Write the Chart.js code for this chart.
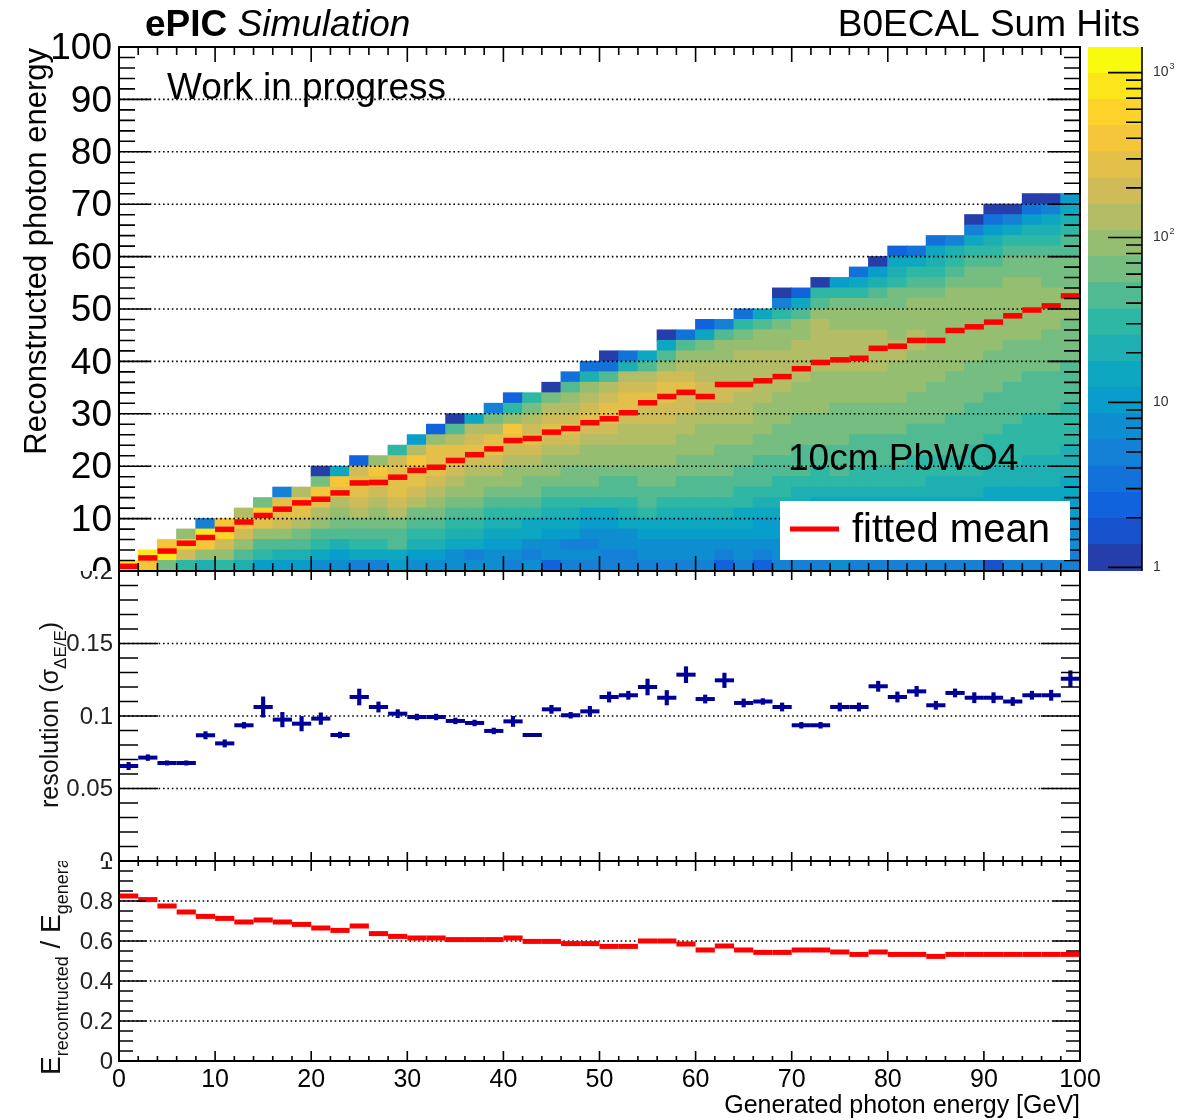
<!DOCTYPE html>
<html><head><meta charset="utf-8">
<script src="https://cdn.jsdelivr.net/npm/chart.js@4.4.0/dist/chart.umd.min.js"></script>
<style>
html,body{margin:0;padding:0;background:#fff;}
#wrap{position:relative;width:1196px;height:1120px;overflow:hidden;background:#fff;}
canvas{position:absolute;}
</style></head><body>
<div id="wrap">
<canvas id="cTop" width="1196" height="571" style="left:0;top:0"></canvas>
<canvas id="cPal" width="116" height="571" style="left:1080px;top:0"></canvas>
<canvas id="cMid" width="1196" height="290" style="left:0;top:571px"></canvas>
<canvas id="cBot" width="1196" height="259" style="left:0;top:861px"></canvas>
</div>
<script>
// ================= DATA =================
const binCenters = [1,3,5,7,9,11,13,15,17,19,21,23,25,27,29,31,33,35,37,39,41,43,45,47,49,51,53,55,57,59,61,63,65,67,69,71,73,75,77,79,81,83,85,87,89,91,93,95,97,99];
const fittedMean = [0.9,2.5,3.8,5.3,6.4,7.95,9.35,10.6,11.8,13.0,13.7,14.9,16.8,16.9,17.9,19.2,19.8,21.1,22.2,23.3,24.9,25.3,26.5,27.2,28.3,29.05,30.2,32.1,33.3,34.1,33.3,35.6,35.6,36.3,37.1,38.6,39.8,40.3,40.6,42.5,42.9,44.0,44.0,45.9,46.6,47.5,48.7,49.8,50.6,52.5];
const resolution = [0.0655,0.0713,0.0676,0.0676,0.0867,0.0811,0.0936,0.1062,0.0975,0.0947,0.0982,0.0869,0.1131,0.1062,0.1016,0.0993,0.0993,0.0966,0.0952,0.0897,0.0963,0.0869,0.1046,0.1005,0.1032,0.1131,0.1143,0.1200,0.1126,0.1285,0.1117,0.1246,0.1090,0.1100,0.1062,0.0936,0.0936,0.1062,0.1062,0.1205,0.1131,0.1170,0.1074,0.1159,0.1126,0.1126,0.1100,0.1143,0.1143,0.1257];
const resolutionErr = [0.0025,0.002,0.0015,0.0015,0.0025,0.0025,0.002,0.007,0.005,0.005,0.004,0.002,0.0055,0.0035,0.0028,0.002,0.002,0.002,0.002,0.002,0.0035,0.001,0.0028,0.002,0.0035,0.0035,0.0028,0.0055,0.005,0.0055,0.0028,0.005,0.0028,0.002,0.0028,0.002,0.002,0.0028,0.0028,0.0035,0.0035,0.0035,0.0028,0.0028,0.0035,0.0035,0.0028,0.0028,0.0035,0.0055];
const ratioRecoGen = [0.825,0.807,0.775,0.745,0.723,0.713,0.695,0.705,0.695,0.683,0.665,0.653,0.675,0.637,0.623,0.615,0.615,0.607,0.607,0.607,0.615,0.598,0.598,0.587,0.587,0.573,0.573,0.600,0.600,0.585,0.555,0.575,0.555,0.543,0.543,0.555,0.555,0.545,0.533,0.545,0.533,0.533,0.523,0.533,0.533,0.533,0.533,0.533,0.533,0.533];
// 2D histogram: one string per generated-energy bin, one char per 2 GeV reconstructed bin (row 0 upward),
// char = colour contour level (0-9,a-j = 0..19)
const cellLevels = [
"i","gi","big","9ehc","8cgi4","9cehg","8acegd","69acfhb","68aceff4","68abdfgd",
"579acdfgb0","568abcdfg7","479abdeffe2","479abcdefgc","67aabdefffe9","5689abdeffgd6","5689abcdefffc2","55789abcdeffda0","54789abccdefed7","556789abcdeffdb4",
"456789abccdefgc92","545779abbcdefedb9","2556789abccdefedb0","4546789abbcdefedca3","4545679abbccdefedc83","4455679aabccdeffeda30","4455789aabccddeffed83","455679aabbccddeefeda7","4556789abbccddeeffeca70","4556789aabbccddeefedca3",
"4556789aabbcccddeeddcb72","2456789aabbbccddeeddcca4","45567799aabbccdddedddcb93","24566789aaabbcccdddddcca7","455667899aabbbcccddddccb940","445567889aaabbbcccddddcca72","4455677899aabbbccccdddddca90","545567789aaabbbbcccddddccb96","4455667899aaabbbcccddddccb973","4455667899aaabbbcccddddccba860",
"4455667899aaabbbccccddcccbb9872","44556678999aaabbbccccddcccba973","44556678899aaabbbbccccccccba9873","44556678899aaaabbbbccccccccba984","445566788999aaaabbbbcccccccbba9740","1455667788999aaaabbbbccccccbba98630","44556677889999aaaabbbbccccccbba9740","445566778889999aaaabbbccccccbba98630","445566778889999aaaabbbbccccbbba98740","4455566778889999aaaabbbbcccbbbaa9876"
];
const yBinWidth = 2;
const colorLevels = [0.95,1.370,1.975,2.847,4.104,5.917,8.531,12.30,17.73,25.56,36.85,53.13,76.60,110.4,159.2,229.5,330.9,477.1,687.8,991.6,1430];
const xTickValues = [0,10,20,30,40,50,60,70,80,90,100];
const xTickLabels = ['0','10','20','30','40','50','60','70','80','90','100'];
const yTopTicks = [0,10,20,30,40,50,60,70,80,90,100];
const yTopLabels = ['0','10','20','30','40','50','60','70','80','90','100'];
const yResTicks = [0,0.05,0.1,0.15,0.2];
const yResLabels = ['0','0.05','0.1','0.15','0.2'];
const yRatioTicks = [0,0.2,0.4,0.6,0.8,1];
const yRatioLabels = ['0','0.2','0.4','0.6','0.8','1'];
const zTickValues = [1,10,100,1000];
const zTickLabels = [['1',''],['10',''],['10','2'],['10','3']];

// ================= STYLE =================
const FONT = "'Liberation Sans', Arial, Helvetica, sans-serif";
Chart.defaults.font.family = FONT;
const birdStops = [0.0000,0.1250,0.2500,0.3750,0.5000,0.6250,0.7500,0.8750,1.0000];
const birdRed   = [0.2082,0.0592,0.0780,0.0232,0.1802,0.5301,0.8186,0.9956,0.9764];
const birdGreen = [0.1664,0.3599,0.5041,0.6419,0.7178,0.7492,0.7328,0.7862,0.9832];
const birdBlue  = [0.5293,0.8684,0.8385,0.7914,0.6425,0.4662,0.3499,0.1968,0.0539];
function birdColor(t){
  let k=0; while(k<birdStops.length-2 && t>birdStops[k+1]) k++;
  const f=Math.min(1,Math.max(0,(t-birdStops[k])/(birdStops[k+1]-birdStops[k])));
  const c=a=>Math.round(255*(a[k]+f*(a[k+1]-a[k])));
  return `rgb(${c(birdRed)},${c(birdGreen)},${c(birdBlue)})`;
}
const nLevels = colorLevels.length-1;
const palette = Array.from({length:nLevels},(_,i)=>birdColor((i+0.99)/nLevels));

const halfBin = ctx => { const s=ctx.chart.scales.x; return (s.getPixelForValue(2)-s.getPixelForValue(0))/2; };

function drawGrid(chart,o){
  const {ctx,chartArea:a}=chart; const ys=chart.scales.y;
  ctx.save();
  ctx.strokeStyle='#000'; ctx.lineWidth=1.6; ctx.setLineDash([1.6,2.8]);
  o.yTicks.forEach((v,i)=>{
    if(i===0||i===o.yTicks.length-1) return;
    const py=ys.getPixelForValue(v);
    ctx.beginPath(); ctx.moveTo(a.left,py); ctx.lineTo(a.right,py); ctx.stroke();
  });
  ctx.restore();
}
function drawFrame(chart,o){
  const {ctx,chartArea:a}=chart; const xs=chart.scales.x, ys=chart.scales.y;
  ctx.save(); ctx.strokeStyle='#000'; ctx.lineWidth=1.6; ctx.setLineDash([]);
  ctx.beginPath();
  const nx=Math.round(100/2);
  for(let k=0;k<=nx;k++){
    const px=xs.getPixelForValue(k*2); const L=(k%5===0)?o.xTick[0]:o.xTick[1];
    ctx.moveTo(px,a.bottom); ctx.lineTo(px,a.bottom-L);
    ctx.moveTo(px,a.top); ctx.lineTo(px,a.top+L);
  }
  const y0=o.yTicks[0], y1=o.yTicks[o.yTicks.length-1];
  const ny=Math.round((y1-y0)/o.yMinor);
  for(let k=0;k<=ny;k++){
    const py=ys.getPixelForValue(y0+k*o.yMinor); const L=(k%o.yPerMajor===0)?o.yTick[0]:o.yTick[1];
    ctx.moveTo(a.left,py); ctx.lineTo(a.left+L,py);
    ctx.moveTo(a.right,py); ctx.lineTo(a.right-L,py);
  }
  ctx.stroke();
  ctx.lineWidth=2; ctx.strokeRect(a.left,a.top,a.right-a.left,a.bottom-a.top);
  ctx.fillStyle=o.yLabelColor; ctx.font=o.yLabelFont; ctx.textAlign='right'; ctx.textBaseline='middle';
  o.yTicks.forEach((v,i)=>ctx.fillText(o.yLabels[i],o.yLabelX,ys.getPixelForValue(v)+o.yLabelDy));
  ctx.restore();
}
function axesPlugin(o){
  return {
    id:'rootAxes',
    beforeDatasetsDraw(chart){ if(o.gridMode==='under') drawGrid(chart,o); },
    beforeDatasetDraw(chart,args){ if(o.gridMode==='before' && args.index===o.gridIndex) drawGrid(chart,o); },
    afterDatasetsDraw(chart){ drawFrame(chart,o); },
    afterDraw(chart){ if(o.extra) o.extra(chart); }
  };
}
function drawPieces(ctx,pieces){
  let u=0;
  for(const p of pieces){ ctx.font=p.font; ctx.fillText(p.t,u,p.dy||0); u+=ctx.measureText(p.t).width; }
}

// ================= TOP PANEL (2D histogram) =================
const cellDatasets=[];
const nRows=Math.max(...cellLevels.map(s=>s.length));
for(let r=0;r<nRows;r++){
  const data=[], bg=[];
  cellLevels.forEach((col,c)=>{
    if(r<col.length){
      data.push({x:binCenters[c], y:[r*yBinWidth,(r+1)*yBinWidth]});
      bg.push(palette[parseInt(col[r],36)]);
    }
  });
  cellDatasets.push({type:'bar',data,backgroundColor:bg,borderWidth:0,grouped:false,barPercentage:1,categoryPercentage:1,inflateAmount:0.5,order:2});
}
const meanDataset={type:'line',label:'fitted mean',data:binCenters.map((x,i)=>({x,y:fittedMean[i]})),showLine:false,
  pointStyle:'line',pointRadius:halfBin,pointHoverRadius:halfBin,pointBorderWidth:5.5,pointHoverBorderWidth:5.5,borderColor:'#ff0000',backgroundColor:'#ff0000',order:0};

function topExtras(chart){
  const ctx=chart.ctx;
  ctx.save(); ctx.fillStyle='#000'; ctx.textBaseline='alphabetic'; ctx.textAlign='left';
  ctx.font=`bold 37px ${FONT}`; ctx.fillText('ePIC',145,36);
  const w=ctx.measureText('ePIC ').width;
  ctx.font=`italic 37px ${FONT}`; ctx.fillText('Simulation',145+w,36);
  ctx.font=`37px ${FONT}`; ctx.textAlign='right'; ctx.fillText('B0ECAL Sum Hits',1140,36);
  ctx.textAlign='left';
  ctx.fillText('Work in progress',167,99);
  ctx.fillText('10cm PbWO4',788,470);
  ctx.fillStyle='#fff'; ctx.fillRect(780,501,290,59);
  ctx.strokeStyle='#ff0000'; ctx.lineWidth=5; ctx.beginPath(); ctx.moveTo(790,529); ctx.lineTo(839,529); ctx.stroke();
  ctx.fillStyle='#000'; ctx.font=`40px ${FONT}`; ctx.fillText('fitted mean',852,542);
  ctx.translate(46,48); ctx.rotate(-Math.PI/2); ctx.textAlign='right'; ctx.font=`31px ${FONT}`;
  ctx.fillText('Reconstructed photon energy',0,0);
  ctx.restore();
}
const baseOpts = (pad)=>({responsive:false,animation:false,devicePixelRatio:1,events:[],
  layout:{padding:pad},plugins:{legend:{display:false},tooltip:{enabled:false}}});

new Chart(document.getElementById('cTop'),{
  type:'bar',
  data:{datasets:[...cellDatasets,meanDataset]},
  options:Object.assign(baseOpts({left:119,right:116,top:47,bottom:0}),{
    scales:{x:{type:'linear',min:0,max:100,offset:false,display:false},
            y:{type:'linear',min:0,max:100,display:false}}}),
  plugins:[axesPlugin({gridMode:'before',gridIndex:cellDatasets.length,yTicks:yTopTicks,yLabels:yTopLabels,yMinor:2,yPerMajor:5,
    yTick:[32,16],xTick:[15,8],yLabelColor:'#000',yLabelFont:`37px ${FONT}`,yLabelX:112,yLabelDy:2,extra:topExtras})]
});

// ================= COLOUR BAR =================
const palDatasets=palette.map((col,i)=>({data:[[colorLevels[i],colorLevels[i+1]]],backgroundColor:col,borderWidth:0,grouped:false,barPercentage:1,categoryPercentage:1,inflateAmount:0.5}));
new Chart(document.getElementById('cPal'),{
  type:'bar',
  data:{labels:[''],datasets:palDatasets},
  options:Object.assign(baseOpts({left:8,right:54,top:47,bottom:0}),{
    scales:{x:{display:false},y:{type:'logarithmic',min:colorLevels[0],max:colorLevels[colorLevels.length-1],display:false}}}),
  plugins:[{id:'palAxis',afterDatasetsDraw(chart){
    const {ctx,chartArea:a}=chart; const ys=chart.scales.y;
    ctx.save(); ctx.strokeStyle='#000'; ctx.lineWidth=1.6; ctx.beginPath();
    ctx.moveTo(a.right,a.top); ctx.lineTo(a.right,a.bottom);
    zTickValues.forEach(d=>{ for(let m=1;m<=9;m++){ const v=d*m; if(v<ys.min||v>ys.max) continue;
      const py=ys.getPixelForValue(v); const L=m===1?34:16; ctx.moveTo(a.right,py); ctx.lineTo(a.right-L,py);} });
    ctx.stroke();
    ctx.fillStyle='#333'; ctx.textBaseline='middle'; ctx.textAlign='left';
    zTickValues.forEach((v,i)=>{ const py=ys.getPixelForValue(v); const [b,e]=zTickLabels[i];
      ctx.font=`14px ${FONT}`; ctx.fillText(b,a.right+11,py); const w=ctx.measureText(b).width;
      if(e){ ctx.font=`9px ${FONT}`; ctx.fillText(e,a.right+11+w+1,py-6); } });
    ctx.restore();
  }}]
});

// ================= MIDDLE PANEL (resolution) =================
function midExtras(chart){
  const ctx=chart.ctx; ctx.save(); ctx.fillStyle='#111'; ctx.textAlign='left'; ctx.textBaseline='alphabetic';
  ctx.translate(58,237); ctx.rotate(-Math.PI/2);
  drawPieces(ctx,[{t:'resolution (σ',font:`25px ${FONT}`},{t:'ΔE/E',font:`17px ${FONT}`,dy:8},{t:')',font:`25px ${FONT}`}]);
  ctx.restore();
}
new Chart(document.getElementById('cMid'),{
  type:'bar',
  data:{datasets:[
    {type:'bar',label:'err',data:binCenters.map((x,i)=>({x,y:[resolution[i]-resolutionErr[i],resolution[i]+resolutionErr[i]]})),
      backgroundColor:'#000099',borderWidth:0,barThickness:3.5,grouped:false,order:1},
    {type:'line',label:'resolution',data:binCenters.map((x,i)=>({x,y:resolution[i]})),showLine:false,pointStyle:'line',
      pointRadius:halfBin,pointHoverRadius:halfBin,pointBorderWidth:4,pointHoverBorderWidth:4,borderColor:'#000099',backgroundColor:'#000099',order:0}
  ]},
  options:Object.assign(baseOpts({left:119,right:116,top:0,bottom:0}),{
    scales:{x:{type:'linear',min:0,max:100,offset:false,display:false},y:{type:'linear',min:0,max:0.2,display:false}}}),
  plugins:[axesPlugin({gridMode:'under',yTicks:yResTicks,yLabels:yResLabels,yMinor:0.01,yPerMajor:5,
    yTick:[39,19],xTick:[9,5],yLabelColor:'#222',yLabelFont:`24px ${FONT}`,yLabelX:113,yLabelDy:1,extra:midExtras})]
});

// ================= BOTTOM PANEL (ratio) =================
function botExtras(chart){
  const {ctx}=chart; const xs=chart.scales.x;
  ctx.save(); ctx.fillStyle='#000'; ctx.textBaseline='alphabetic';
  ctx.font=`25px ${FONT}`; ctx.textAlign='center';
  xTickValues.forEach((v,i)=>ctx.fillText(xTickLabels[i],xs.getPixelForValue(v),226));
  ctx.textAlign='right'; ctx.fillText('Generated photon energy [GeV]',1080,252);
  ctx.textAlign='left'; ctx.fillStyle='#111';
  ctx.translate(60,214); ctx.rotate(-Math.PI/2);
  drawPieces(ctx,[{t:'E',font:`28px ${FONT}`},{t:'recontructed',font:`18px ${FONT}`,dy:8},{t:' / E',font:`28px ${FONT}`},{t:'generated',font:`18px ${FONT}`,dy:8}]);
  ctx.restore();
}
new Chart(document.getElementById('cBot'),{
  type:'line',
  data:{datasets:[
    {label:'E_reco/E_gen',data:binCenters.map((x,i)=>({x,y:ratioRecoGen[i]})),showLine:false,pointStyle:'line',
      pointRadius:halfBin,pointHoverRadius:halfBin,pointBorderWidth:5,pointHoverBorderWidth:5,borderColor:'#ff0000',backgroundColor:'#ff0000'}
  ]},
  options:Object.assign(baseOpts({left:119,right:116,top:0,bottom:59}),{
    scales:{x:{type:'linear',min:0,max:100,display:false},y:{type:'linear',min:0,max:1,display:false}}}),
  plugins:[axesPlugin({gridMode:'under',yTicks:yRatioTicks,yLabels:yRatioLabels,yMinor:0.05,yPerMajor:4,
    yTick:[27,14],xTick:[10,5],yLabelColor:'#222',yLabelFont:`24px ${FONT}`,yLabelX:113,yLabelDy:1,extra:botExtras})]
});
</script>
</body></html>
